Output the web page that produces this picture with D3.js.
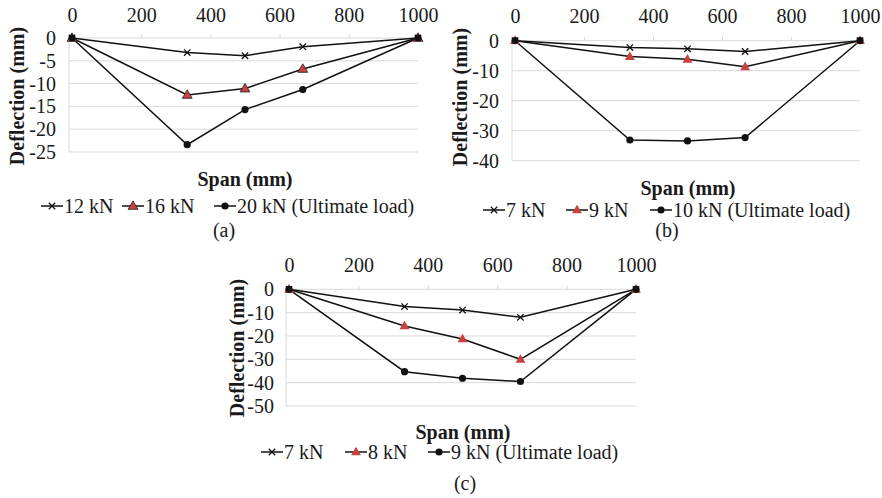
<!DOCTYPE html>
<html><head><meta charset="utf-8">
<script src="https://cdn.jsdelivr.net/npm/d3@7/dist/d3.min.js"></script>
<style>body{margin:0;background:#fff}svg{display:block}</style>
</head><body>
<svg id="c" width="882" height="498"></svg>
<script>
// ---- data ----
const spanPoints = [0, 333, 500, 667, 1000];
const xTicks = [0, 200, 400, 600, 800, 1000];

const aSeriesNames = ["12 kN", "16 kN", "20 kN (Ultimate load)"];
const a12 = [0, -3.2, -3.9, -1.9, 0];
const a16 = [0, -12.5, -11.1, -6.8, 0];
const a20 = [0, -23.4, -15.7, -11.3, 0];
const aYTicks = [0, -5, -10, -15, -20, -25];

const bSeriesNames = ["7 kN", "9 kN", "10 kN (Ultimate load)"];
const b7 = [0, -2.3, -2.7, -3.6, 0];
const b9 = [0, -5.3, -6.2, -8.7, 0];
const b10 = [0, -33.1, -33.4, -32.3, 0];
const bYTicks = [0, -10, -20, -30, -40];

const cSeriesNames = ["7 kN", "8 kN", "9 kN (Ultimate load)"];
const c7 = [0, -7.4, -8.9, -12.0, 0];
const c8 = [0, -15.7, -21.3, -30.0, 0];
const c9 = [0, -35.3, -38.1, -39.5, 0];
const cYTicks = [0, -10, -20, -30, -40, -50];

const panelLabels = ["(a)", "(b)", "(c)"];
const xTitle = "Span (mm)";
const yTitle = "Deflection (mm)";

// ---- drawing ----
const svg = d3.select("#c");
const FONT = "'Liberation Serif','Times New Roman',serif";
const RED = "#c9413f";
const FS = 20;
const INK = "#1a1a1a";

function marker(g, type, cx, cy, outline) {
  if (type === "x") {
    const s = 3.2;
    g.append("path").attr("d", `M${cx-s},${cy-s}L${cx+s},${cy+s}M${cx-s},${cy+s}L${cx+s},${cy-s}`)
      .attr("stroke", "#111").attr("stroke-width", 1.3).attr("fill", "none");
  } else if (type === "tri") {
    g.append("path").attr("d", d3.symbol(d3.symbolTriangle, 42)())
      .attr("transform", `translate(${cx},${cy+0.5})`)
      .attr("fill", RED).attr("stroke", outline ? "#222" : "none").attr("stroke-width", 0.8);
  } else {
    g.append("circle").attr("cx", cx).attr("cy", cy).attr("r", 3.6).attr("fill", "#111");
  }
}

function panel(cfg) {
  const g = svg.append("g");
  const x = d3.scaleLinear().domain([0, 1000]).range([cfg.x0, cfg.x1]);
  const y = d3.scaleLinear().domain([0, cfg.yTicks[cfg.yTicks.length-1]]).range([cfg.yTop, cfg.yBot]);

  g.selectAll(".grid").data(cfg.yTicks).join("line")
    .attr("x1", x(0) - 3).attr("x2", x(1000)).attr("y1", d => y(d)).attr("y2", d => y(d))
    .attr("stroke", "#d9d9d9").attr("stroke-width", 1);
  g.append("line").attr("x1", x(0) - 3).attr("x2", x(0) - 3).attr("y1", y(0)).attr("y2", cfg.yBot)
    .attr("stroke", "#d9d9d9");
  const xAxis = d3.axisTop(x).tickValues(xTicks).tickFormat(d3.format("d")).tickSize(4).tickPadding(cfg.xPad);
  const xa = g.append("g").attr("transform", `translate(0,${y(0)})`).call(xAxis);
  xa.select(".domain").remove();
  xa.selectAll(".tick line").attr("stroke", "#d9d9d9");
  xa.selectAll(".tick text").attr("font-family", FONT).attr("font-size", FS).attr("fill", INK);

  const yAxis = d3.axisLeft(y).tickValues(cfg.yTicks).tickSize(0).tickPadding(cfg.yPad).tickFormat(d => String(d));
  const ya = g.append("g").attr("transform", `translate(${x(0)},0)`).call(yAxis);
  ya.select(".domain").remove();
  ya.selectAll(".tick text").attr("font-family", FONT).attr("font-size", FS).attr("fill", INK);

  const line = d3.line().x((d, i) => x(spanPoints[i])).y(d => y(d));
  const types = ["x", "tri", "dot"];
  cfg.series.forEach(s => {
    g.append("path").attr("d", line(s)).attr("fill", "none").attr("stroke", "#111").attr("stroke-width", 1.5);
  });
  cfg.series.forEach((s, k) => {
    s.forEach((v, i) => marker(g, types[k], x(spanPoints[i]), y(v), cfg.triOutline));
  });

  g.append("text").attr("x", cfg.xtX).attr("y", cfg.xtY).attr("text-anchor", "middle")
    .attr("font-family", FONT).attr("font-weight", "bold").attr("font-size", 20).attr("fill", INK).text(xTitle);
  g.append("text").attr("transform", `translate(${cfg.ytX},${cfg.ytY}) rotate(-90)`).attr("text-anchor", "middle")
    .attr("font-family", FONT).attr("font-weight", "bold").attr("font-size", 20).attr("fill", INK).text(yTitle);

  cfg.names.forEach((n, k) => {
    const lx = cfg.legX[k], ly = cfg.legY;
    g.append("line").attr("x1", lx).attr("x2", lx + 22).attr("y1", ly).attr("y2", ly)
      .attr("stroke", "#111").attr("stroke-width", 1.5);
    marker(g, types[k], lx + 11, ly, cfg.triOutline);
    g.append("text").attr("x", lx + 23).attr("y", ly + 6.5).attr("font-family", FONT)
      .attr("font-size", FS).attr("fill", INK).text(n);
  });
  g.append("text").attr("x", cfg.plX).attr("y", cfg.plY).attr("text-anchor", "middle")
    .attr("font-family", FONT).attr("font-size", FS).attr("fill", INK).text(cfg.label);
}

panel({x0: 72, x1: 418, yTop: 38, yBot: 152, yTicks: aYTicks, xPad: 12, yPad: 16,
  series: [a12, a16, a20], names: aSeriesNames, triOutline: true,
  xtX: 245, xtY: 186, ytX: 24, ytY: 96, legX: [41, 122, 214], legY: 206, plX: 224, plY: 237, label: panelLabels[0]});
panel({x0: 515, x1: 860, yTop: 40.7, yBot: 160.7, yTicks: bYTicks, xPad: 14, yPad: 16,
  series: [b7, b9, b10], names: bSeriesNames, triOutline: false,
  xtX: 688, xtY: 195, ytX: 467, ytY: 97, legX: [483, 566, 650], legY: 210, plX: 667, plY: 237, label: panelLabels[1]});
panel({x0: 289, x1: 636, yTop: 289.3, yBot: 406, yTicks: cYTicks, xPad: 13, yPad: 15,
  series: [c7, c8, c9], names: cSeriesNames, triOutline: false,
  xtX: 463, xtY: 439, ytX: 244, ytY: 348, legX: [261, 345, 428], legY: 452, plX: 465, plY: 490, label: panelLabels[2]});
</script>
</body></html>
